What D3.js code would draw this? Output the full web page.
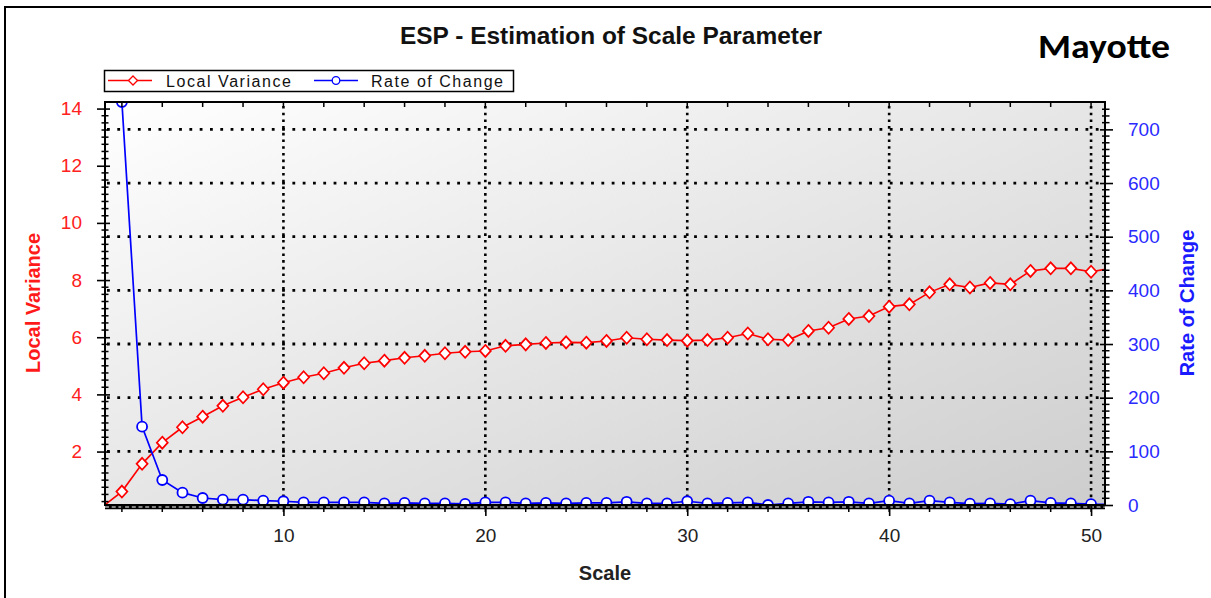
<!DOCTYPE html>
<html><head><meta charset="utf-8">
<script src="https://cdn.jsdelivr.net/npm/d3@7"></script>
<style>
body{margin:0;background:#fff;}
svg{display:block;font-family:Arial,"Liberation Sans",sans-serif;}
</style>
</head><body>
<svg id="c" width="1211" height="598"></svg>
<script>
// ---- data ----
const scales = [1,2,3,4,5,6,7,8,9,10,11,12,13,14,15,16,17,18,19,20,21,22,23,24,25,26,27,28,29,30,31,32,33,34,35,36,37,38,39,40,41,42,43,44,45,46,47,48,49,50,51];
const localVariance = [0.05,0.60,1.57,2.31,2.85,3.22,3.60,3.90,4.18,4.41,4.60,4.74,4.93,5.09,5.18,5.28,5.35,5.44,5.49,5.52,5.70,5.75,5.80,5.82,5.81,5.87,5.98,5.93,5.90,5.88,5.90,5.98,6.13,5.93,5.90,6.22,6.33,6.64,6.74,7.07,7.15,7.57,7.85,7.74,7.90,7.85,8.32,8.41,8.41,8.29,8.41];
const rateOfChange = [null,751,146,46.6,23,13,10,10,8,7,5,5,5,5,3,4,3,3,2,5,5,3,4,3,4,4,6,3,3,7,3,4,5,0,3,6,5,6,3,8,3,8,5,2.5,3,1.5,8,4,3,1.5,1];
const xTickLabels = [10,20,30,40,50];
const leftTickLabels = [2,4,6,8,10,12,14];
const rightTickLabels = [0,100,200,300,400,500,600,700];
const seriesNames = ["Local Variance","Rate of Change"];

// ---- layout ----
const L=105, R=1105, T=102, B=505;
const svg = d3.select("#c");
const RED="#ff0000", BLUE="#0000ff";

const x = d3.scaleLinear().domain([1.163,50.69]).range([L,R]);
const yL = d3.scaleLinear().domain([0.13,14.23]).range([B,T]);
const yR = d3.scaleLinear().domain([0,751]).range([B,T]);

const defs = svg.append("defs");
const grad = defs.append("linearGradient").attr("id","bg").attr("x1",0).attr("y1",0).attr("x2",1).attr("y2",1);
grad.append("stop").attr("offset","0%").attr("stop-color","#ffffff");
grad.append("stop").attr("offset","100%").attr("stop-color","#cdcdcd");
defs.append("clipPath").attr("id","clip").append("rect").attr("x",L).attr("y",T).attr("width",R-L).attr("height",B-T);

// outer frame
svg.append("path").attr("d","M5,598V7H1211").attr("fill","none").attr("stroke","#000").attr("stroke-width",2);

// title
svg.append("text").attr("x",611).attr("y",44).attr("text-anchor","middle")
  .attr("font-size",23).attr("font-weight","bold").attr("fill","#111").attr("textLength",422).attr("lengthAdjust","spacingAndGlyphs")
  .text("ESP - Estimation of Scale Parameter");
svg.append("text").attr("x",1038).attr("y",58).attr("font-family","Carlito, Lato, 'Open Sans', sans-serif")
  .attr("font-size",35).attr("font-weight","bold").attr("textLength",132).attr("lengthAdjust","spacingAndGlyphs")
  .text("Mayotte");

// plot background
svg.append("rect").attr("x",L).attr("y",T).attr("width",R-L).attr("height",B-T).attr("fill","url(#bg)");

// grid
const grid = svg.append("g");
grid.selectAll(".gh").data(rightTickLabels.filter(d=>d>0)).join("line")
  .attr("x1",L+2).attr("x2",R).attr("y1",d=>yR(d)).attr("y2",d=>yR(d))
  .attr("stroke","#000").attr("stroke-width",2.8).attr("stroke-dasharray","2.8,7.5");
grid.selectAll(".gv").data(xTickLabels).join("line")
  .attr("x1",d=>x(d)).attr("x2",d=>x(d)).attr("y1",T+4).attr("y2",B)
  .attr("stroke","#000").attr("stroke-width",2.6).attr("stroke-dasharray","2.6,4.1");

// series
const rows = scales.map((s,i)=>({s, lv:localVariance[i], rc:rateOfChange[i]}));
const inX = d=> d.s>=x.domain()[0] && d.s<=x.domain()[1];
const plot = svg.append("g").attr("clip-path","url(#clip)");
plot.append("path").datum(rows)
  .attr("d", d3.line().x(d=>x(d.s)).y(d=>yL(d.lv)))
  .attr("fill","none").attr("stroke",RED).attr("stroke-width",1.6);
const diamond = "M0,-6L5.5,0L0,6L-5.5,0Z";
plot.selectAll(".dm").data(rows.filter(inX)).join("path")
  .attr("d",diamond).attr("transform",d=>`translate(${x(d.s)},${yL(d.lv)})`)
  .attr("fill","#fff").attr("stroke",RED).attr("stroke-width",1.7);
const rcRows = rows.filter(d=>d.rc!==null);
plot.append("path").datum(rcRows)
  .attr("d", d3.line().x(d=>x(d.s)).y(d=>yR(d.rc)))
  .attr("fill","none").attr("stroke",BLUE).attr("stroke-width",1.7);
plot.selectAll(".ci").data(rcRows.filter(inX)).join("circle")
  .attr("cx",d=>x(d.s)).attr("cy",d=>yR(d.rc)).attr("r",5)
  .attr("fill","#fff").attr("stroke",BLUE).attr("stroke-width",1.8);

// border
svg.append("rect").attr("x",L).attr("y",T).attr("width",R-L).attr("height",B-T)
  .attr("fill","none").attr("stroke","#000").attr("stroke-width",2);

// bottom double band
svg.append("line").attr("x1",L).attr("x2",R).attr("y1",507).attr("y2",507).attr("stroke","#000").attr("stroke-width",4.5);
svg.append("line").attr("x1",L).attr("x2",R).attr("y1",507).attr("y2",507).attr("stroke","#fff").attr("stroke-width",1.2).attr("stroke-dasharray","4,2.7");

// minor ticks
const tk = svg.append("g").attr("stroke","#000").attr("stroke-width",1.5);
tk.selectAll(".ml").data(d3.range(0.25,14.01,0.25).filter(v=>Math.abs(v/2-Math.round(v/2))>1e-6)).join("line")
  .attr("x1",101.5).attr("x2",108.5).attr("y1",d=>yL(d)).attr("y2",d=>yL(d));
tk.selectAll(".mr").data(d3.range(12.5,750,12.5).filter(v=>v%100!==0)).join("line")
  .attr("x1",1102).attr("x2",1109.5).attr("y1",d=>yR(d)).attr("y2",d=>yR(d));
tk.selectAll(".mt").data(d3.range(2,51,2)).join("line")
  .attr("x1",d=>x(d)).attr("x2",d=>x(d)).attr("y1",T).attr("y2",T+5);
tk.selectAll(".mb").data(d3.range(2,51,2)).join("line")
  .attr("x1",d=>x(d)).attr("x2",d=>x(d)).attr("y1",B).attr("y2",B+7);

// axes
const axL = svg.append("g").attr("transform",`translate(${L},0)`)
  .call(d3.axisLeft(yL).tickValues(leftTickLabels).tickSizeInner(8).tickSizeOuter(0).tickPadding(15));
axL.select(".domain").remove();
axL.selectAll(".tick line").attr("x1",5).attr("stroke","#000").attr("stroke-width",1.6);
axL.selectAll(".tick text").attr("font-size",19).attr("fill","#ff2020").attr("font-family","Arial,'Liberation Sans',sans-serif");

const axR = svg.append("g").attr("transform",`translate(${R},0)`)
  .call(d3.axisRight(yR).tickValues(rightTickLabels).tickSizeInner(8).tickSizeOuter(0).tickPadding(15));
axR.select(".domain").remove();
axR.selectAll(".tick line").attr("x1",-5).attr("stroke","#000").attr("stroke-width",1.6);
axR.selectAll(".tick text").attr("font-size",19).attr("fill","#2a2aff").attr("font-family","Arial,'Liberation Sans',sans-serif");

const axB = svg.append("g").attr("transform",`translate(0,${B})`)
  .call(d3.axisBottom(x).tickValues(xTickLabels).tickSizeInner(11).tickSizeOuter(0).tickPadding(13));
axB.select(".domain").remove();
axB.selectAll(".tick line").attr("stroke","#000").attr("stroke-width",1.6);
axB.selectAll(".tick text").attr("font-size",19).attr("fill","#222").attr("font-family","Arial,'Liberation Sans',sans-serif");

// axis titles
svg.append("text").attr("transform","translate(40,303) rotate(-90)").attr("text-anchor","middle")
  .attr("font-size",20).attr("font-weight","bold").attr("fill","#ff1a1a").text("Local Variance");
svg.append("text").attr("transform","translate(1194,303) rotate(-90)").attr("text-anchor","middle")
  .attr("font-size",20).attr("font-weight","bold").attr("fill","#1a1aff").text("Rate of Change");
svg.append("text").attr("x",605).attr("y",580).attr("text-anchor","middle")
  .attr("font-size",20).attr("font-weight","bold").attr("fill","#222").text("Scale");

// legend
const lg = svg.append("g");
lg.append("rect").attr("x",104.5).attr("y",70.5).attr("width",409).attr("height",21)
  .attr("fill","#fff").attr("stroke","#000").attr("stroke-width",1.5);
lg.append("line").attr("x1",108).attr("x2",152).attr("y1",80.5).attr("y2",80.5).attr("stroke",RED).attr("stroke-width",1.5);
lg.append("path").attr("d","M0,-4.5L4.5,0L0,4.5L-4.5,0Z").attr("transform","translate(133,80.5)")
  .attr("fill","#fff").attr("stroke",RED).attr("stroke-width",1.3);
lg.append("text").attr("x",166).attr("y",86.5).attr("font-size",16).attr("textLength",125).attr("fill","#111").text(seriesNames[0]);
lg.append("line").attr("x1",314).attr("x2",358).attr("y1",80.5).attr("y2",80.5).attr("stroke",BLUE).attr("stroke-width",1.5);
lg.append("circle").attr("cx",336).attr("cy",80.5).attr("r",3.8)
  .attr("fill","#fff").attr("stroke",BLUE).attr("stroke-width",1.3);
lg.append("text").attr("x",371).attr("y",86.5).attr("font-size",16).attr("textLength",132).attr("fill","#111").text(seriesNames[1]);
</script>
</body></html>
